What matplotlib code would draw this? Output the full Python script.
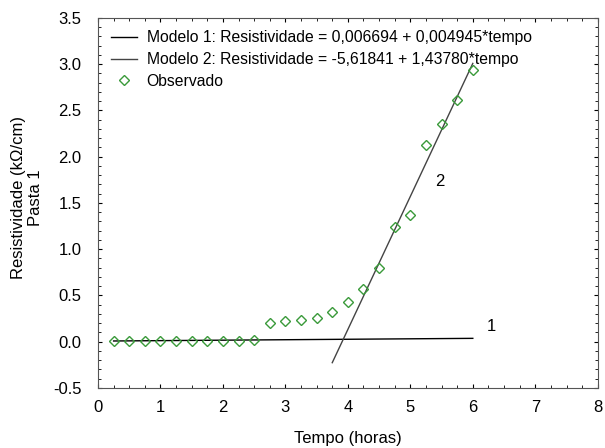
import numpy as np
import matplotlib
matplotlib.use("Agg")
import matplotlib.pyplot as plt
from matplotlib.ticker import MultipleLocator

plt.rcParams['font.family'] = ['Liberation Sans', 'DejaVu Sans']

tempo = [0.25, 0.5, 0.75, 1.0, 1.25, 1.5, 1.75, 2.0, 2.25, 2.5,
         2.75, 3.0, 3.25, 3.5, 3.75, 4.0, 4.25, 4.5, 4.75, 5.0,
         5.25, 5.5, 5.75, 6.0]
resist = [0.01, 0.01, 0.01, 0.01, 0.01, 0.01, 0.01, 0.01, 0.01, 0.02,
          0.20, 0.22, 0.23, 0.26, 0.32, 0.43, 0.57, 0.80, 1.24, 1.37,
          2.13, 2.35, 2.61, 2.94]

# fitted models
m1_a, m1_b = 0.006694, 0.004945
m2_a, m2_b = -5.61841, 1.43780
m1_range = [0.25, 6.0]
m2_range = [3.75, 6.0]

fig = plt.figure(figsize=(6.05, 4.48), dpi=100)
ax = fig.add_axes([0.162, 0.134, 0.826, 0.826])

t1 = np.array(m1_range)
t2 = np.array(m2_range)
ax.plot(t1, m1_a + m1_b * t1, color='black', lw=1.0,
        label='Modelo 1: Resistividade = 0,006694 + 0,004945*tempo')
ax.plot(t2, m2_a + m2_b * t2, color='#444444', lw=1.0,
        label='Modelo 2: Resistividade = -5,61841 + 1,43780*tempo')
ax.plot(tempo, resist, ls='none', marker='D', ms=5.5, mfc='none',
        mec='#3a9a3a', mew=1.0, label='Observado')

ax.text(6.3, 0.16, '1', fontsize=12, ha='center', va='center')
ax.text(5.47, 1.73, '2', fontsize=12, ha='center', va='center')

ax.set_xlim(0, 8)
ax.set_ylim(-0.5, 3.5)
ax.xaxis.set_major_locator(MultipleLocator(1))
ax.xaxis.set_minor_locator(MultipleLocator(0.25))
ax.yaxis.set_major_locator(MultipleLocator(0.5))
ax.yaxis.set_minor_locator(MultipleLocator(0.1))
ax.yaxis.set_major_formatter(plt.FormatStrFormatter('%.1f'))
ax.tick_params(which='both', direction='in', top=True, right=True,
               labelsize=12)
ax.tick_params(which='major', length=3, width=0.8)
ax.tick_params(which='minor', length=2, width=0.6)
ax.tick_params(axis='x', pad=9)
ax.tick_params(axis='y', pad=12)
for s in ax.spines.values():
    s.set_color('#555555')

ax.set_xlabel('Tempo (horas)', fontsize=12, va='top')
ax.xaxis.set_label_coords(0.5, -0.115)
ax.set_ylabel('Resistividade (k\u03a9/cm)\nPasta 1', fontsize=12)
ax.yaxis.set_label_coords(-0.11, 0.515)

ax.legend(loc='upper left', frameon=False, fontsize=11.3, handlelength=1.7,
          borderaxespad=0.4, labelspacing=0.42, handletextpad=0.6)

fig.savefig('out.png', dpi=100)
